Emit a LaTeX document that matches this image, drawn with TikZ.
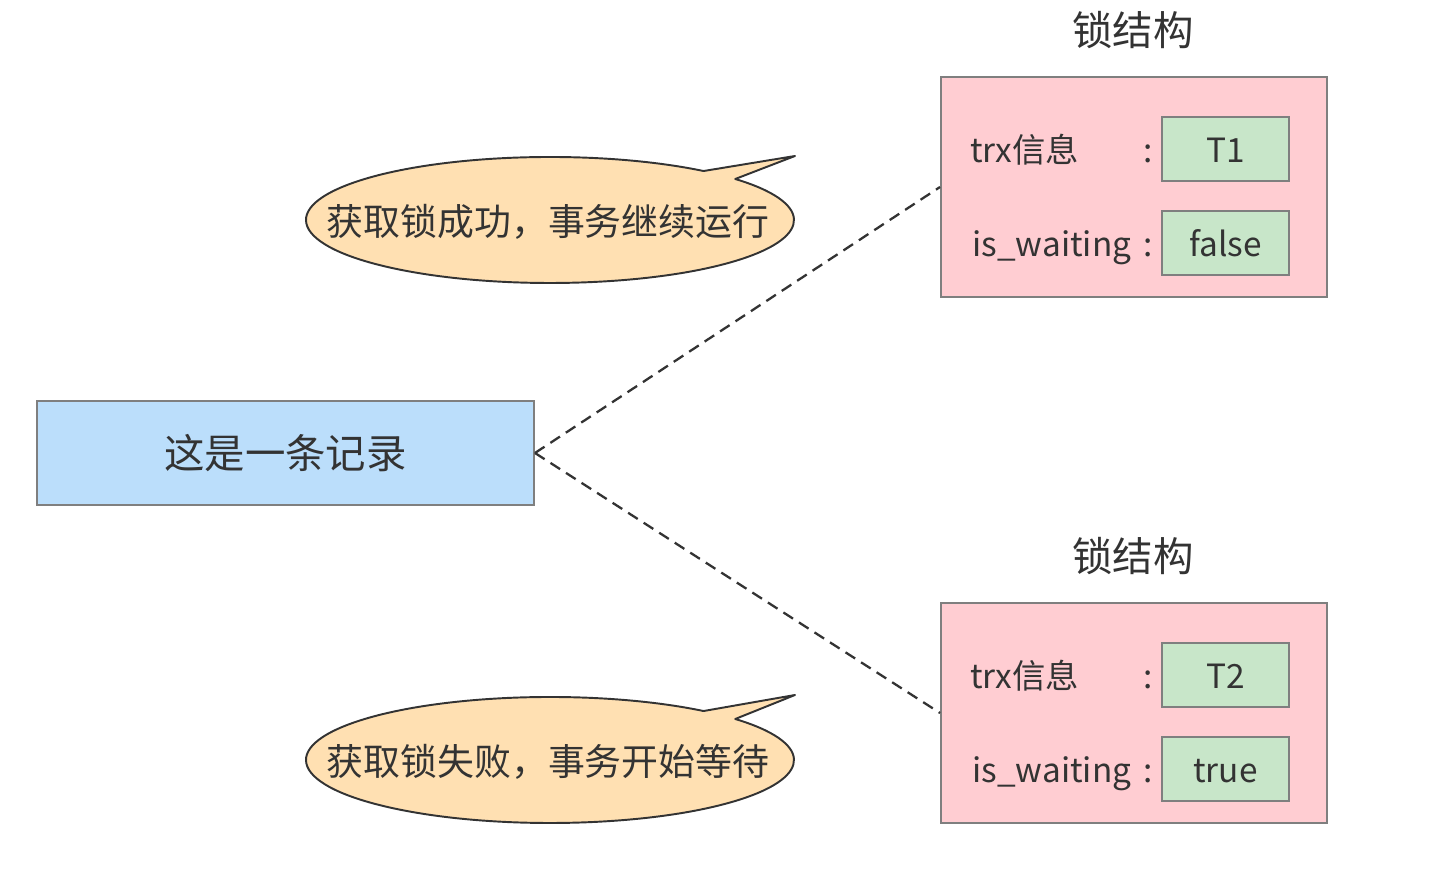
\documentclass[tikz,border=0pt]{standalone}
\usepackage{fontspec}
\setmainfont{Noto Sans CJK SC}
\usepackage{xcolor}
\usepackage{tikz}
\usetikzlibrary{positioning}
\definecolor{RecBlue}{HTML}{BBDEFB}
\definecolor{LockPink}{HTML}{FFCDD2}
\definecolor{ValGreen}{HTML}{C8E6C9}
\definecolor{TipOrange}{HTML}{FFE0B2}
\definecolor{EdgeGray}{HTML}{7F7F7F}
\definecolor{InkDark}{HTML}{333333}

\begin{document}
\begin{tikzpicture}[x=1cm,y=1cm,
  lockbox/.style={draw=EdgeGray,fill=LockPink,line width=1.1pt,minimum width=7.72cm,minimum height=4.40cm,inner sep=0pt},
  valbox/.style={draw=EdgeGray,fill=ValGreen,line width=1.1pt,minimum width=2.54cm,minimum height=1.28cm,inner sep=0pt,text height=15pt,text depth=0pt,font=\fontsize{19}{22}\selectfont,text=InkDark},
  fieldkey/.style={anchor=west,inner sep=0pt,text height=15pt,text depth=0pt,font=\fontsize{19}{22}\selectfont,text=InkDark},
  locktitle/.style={inner sep=0pt,font=\fontsize{23}{27}\selectfont,text=InkDark},
  tipline/.style={draw=InkDark,fill=TipOrange,line width=1.1pt,line join=round},
  link/.style={dash pattern=on 6.5pt off 4pt,line width=1.3pt,draw=InkDark}]
\path[use as bounding box] (0,0) rectangle (29,17.44);
\fill[white] (0,0) rectangle (29,17.44);
% the record
\node[draw=EdgeGray,fill=RecBlue,line width=1.1pt,minimum width=9.94cm,minimum height=2.08cm,font=\fontsize{23}{27}\selectfont,text=InkDark] (rec) at (5.71,8.38) {这是一条记录};
% upper lock
\node[lockbox] (lock1) at (22.68,13.70) {};
\node[locktitle] (title1) at (22.66,16.84) {锁结构};
\node[valbox] (trx1) at (24.51,14.46) {T1};
\node[valbox] (wait1) at (24.51,12.58) {false};
\node[fieldkey] (trxkey1) at (19.40,14.46) {trx信息};
\node[fieldkey] (waitkey1) at (19.44,12.58) {is\_waiting};
\node[fieldkey,anchor=center] (colon1a) at (22.96,14.46) {:};
\node[fieldkey,anchor=center] (colon1b) at (22.96,12.58) {:};
% lower lock
\node[lockbox] (lock2) at (22.68,3.18) {};
\node[locktitle] (title2) at (22.66,6.32) {锁结构};
\node[valbox] (trx2) at (24.51,3.94) {T2};
\node[valbox] (wait2) at (24.51,2.06) {true};
\node[fieldkey] (trxkey2) at (19.40,3.94) {trx信息};
\node[fieldkey] (waitkey2) at (19.44,2.06) {is\_waiting};
\node[fieldkey,anchor=center] (colon2a) at (22.96,3.94) {:};
\node[fieldkey,anchor=center] (colon2b) at (22.96,2.06) {:};
% links
\draw[link] (rec.east) -- (lock1.west);
\draw[link] (rec.east) -- (lock2.west);
% callouts
\draw[tipline] (11.00,13.04) ++(51:4.88cm and 1.26cm) arc[start angle=51,end angle=400.6,x radius=4.88,y radius=1.26] -- (15.90,14.32) -- cycle;
\node[locktitle,font=\fontsize{21}{25}\selectfont] (okmsg) at (10.96,13.00) {获取锁成功，事务继续运行};
\draw[tipline] (11.00,2.24) ++(51:4.88cm and 1.26cm) arc[start angle=51,end angle=400.6,x radius=4.88,y radius=1.26] -- (15.90,3.54) -- cycle;
\node[locktitle,font=\fontsize{21}{25}\selectfont] (waitmsg) at (10.96,2.20) {获取锁失败，事务开始等待};
\end{tikzpicture}
\end{document}
